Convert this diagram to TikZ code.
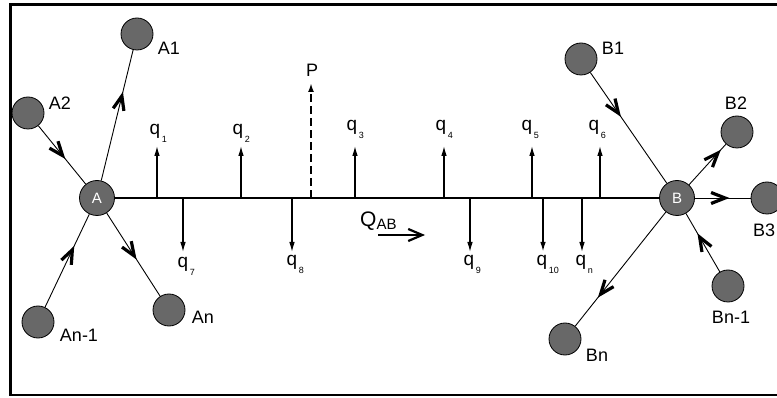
\documentclass[tikz,border=0pt]{standalone}
\usepackage{fontspec}
\setmainfont{Liberation Sans}
\usetikzlibrary{arrows.meta,decorations.markings}

\definecolor{nodegray}{RGB}{104,104,104}

\tikzset{
  hub/.style={circle, draw=black, line width=0.8pt, fill=nodegray, minimum size=35pt,
    inner sep=0pt, text=white, font=\fontsize{15}{15}\selectfont},
  leaf/.style={circle, draw=black, line width=0.8pt, fill=nodegray, minimum size=32pt, inner sep=0pt},
  lbl/.style={inner sep=0pt, font=\fontsize{18}{18}\selectfont},
  qlbl/.style={inner sep=0pt, anchor=base, font=\fontsize{19}{19}\selectfont},
  flow/.style={line width=0.9pt, postaction={decorate},
    decoration={markings, mark=at position #1 with
      {\arrow{Straight Barb[length=14pt,width=11pt,line width=3.2pt]}}}},
  flow/.default=0.5,
  trunk/.style={line width=1.1pt},
  load/.style={line width=1.1pt, -{Latex[length=10pt,width=5.5pt]}},
  force/.style={line width=2pt, dash pattern=on 8pt off 4pt, -{Latex[length=9pt,width=6pt]}},
  frame/.style={line width=2.8pt}
}

\newcommand{\qsub}[1]{q\rlap{\kern1.5pt\raisebox{-8pt}{\fontsize{9}{9}\selectfont #1}}}

\begin{document}
\begin{tikzpicture}[x=1pt,y=-1pt]
  \useasboundingbox (0,0) rectangle (777,398);
  \clip (0,0) rectangle (777,398);

  % outer frame (runs past the right edge)
  \draw[frame] (10.5,4.7) rectangle (820,395);

  % hubs and branch nodes
  \node[hub]  (A)   at (97,198)  {A};
  \node[hub]  (B)   at (677,198) {B};
  \node[leaf] (A1)  at (137,34)  {};
  \node[leaf] (A2)  at (28,113)  {};
  \node[leaf] (An1) at (38,322)  {};
  \node[leaf] (An)  at (169,310) {};
  \node[leaf] (B1)  at (581,59)  {};
  \node[leaf] (B2)  at (737,132) {};
  \node[leaf] (B3)  at (767,198) {};
  \node[leaf] (Bn1) at (728,286) {};
  \node[leaf] (Bn)  at (565,339) {};

  % node names
  \node[lbl] (tA1)  at (169,48)  {A1};
  \node[lbl] (tA2)  at (60,103)  {A2};
  \node[lbl] (tAn1) at (79,335)  {An-1};
  \node[lbl] (tAn)  at (203,317) {An};
  \node[lbl] (tB1)  at (613,48)  {B1};
  \node[lbl] (tB2)  at (736,103) {B2};
  \node[lbl, anchor=west] (tB3) at (753,230) {B3};
  \node[lbl] (tBn1) at (731,317) {Bn-1};
  \node[lbl] (tBn)  at (597,355) {Bn};

  % branch connectors with flow direction
  \draw[flow=0.57] (A2) -- (A);
  \draw[flow=0.68] (A) -- (A1);
  \draw[flow=0.66] (An1) -- (A);
  \draw[flow=0.56] (A) -- (An);
  \draw[flow=0.40] (B1) -- (B);
  \draw[flow=0.86] (B) -- (B2);
  \draw[flow=0.62] (B) -- (B3);
  \draw[flow=0.66] (Bn1) -- (B);
  \draw[flow=0.75] (B) -- (Bn);

  % main pipe A--B
  \draw[trunk] (A) -- (B);

  % tapping points on the pipe and arrow ends
  \foreach \n/\x in {1/157, 2/241, 3/355, 4/444, 5/532, 6/600} {
    \coordinate (u\n) at (\x,198);
    \coordinate (ue\n) at (\x,146);
    \draw[load] (u\n) -- (ue\n);
  }
  \foreach \n/\x in {7/183, 8/292, 9/470, 10/543, 11/582} {
    \coordinate (d\n) at (\x,198);
    \coordinate (de\n) at (\x,252);
  }
  \draw[load] (d7) -- (de7);
  \draw[load] (d8) -- (de8);
  \draw[load] (d9) -- (de9);
  \draw[load, line width=1.7pt] (d10) -- (de10);
  \draw[load] (d11) -- (de11);

  % concentrated force P
  \coordinate (p0) at (311,198);
  \coordinate (p1) at (311,83);
  \draw[force] (p0) -- (p1);
  \node[lbl] (tP) at (312,70) {P};

  % withdrawal labels
  \node[qlbl] (tq1) at (155,135) {\qsub{1}};
  \node[qlbl] (tq2) at (238,135) {\qsub{2}};
  \node[qlbl] (tq3) at (352,131) {\qsub{3}};
  \node[qlbl] (tq4) at (441,131) {\qsub{4}};
  \node[qlbl] (tq5) at (527,131) {\qsub{5}};
  \node[qlbl] (tq6) at (594,131) {\qsub{6}};
  \node[qlbl] (tq7) at (183,268) {\qsub{7}};
  \node[qlbl] (tq8) at (292,266) {\qsub{8}};
  \node[qlbl] (tq9) at (469,266) {\qsub{9}};
  \node[qlbl] (tq10) at (542,266) {\qsub{10}};
  \node[qlbl] (tqn) at (581,266) {\qsub{n}};

  % pipe flow Q_AB
  \node[inner sep=0pt, anchor=base west, font=\fontsize{21}{21}\selectfont] (tQ) at (360,227)
    {Q\raisebox{-3pt}{\fontsize{15}{15}\selectfont AB}};
  \coordinate (qa) at (378,235);
  \coordinate (qb) at (425,235);
  \draw[line width=1.3pt, -{Straight Barb[length=14pt,width=12pt,line width=2.2pt]}] (qa) -- (qb);
\end{tikzpicture}
\end{document}
